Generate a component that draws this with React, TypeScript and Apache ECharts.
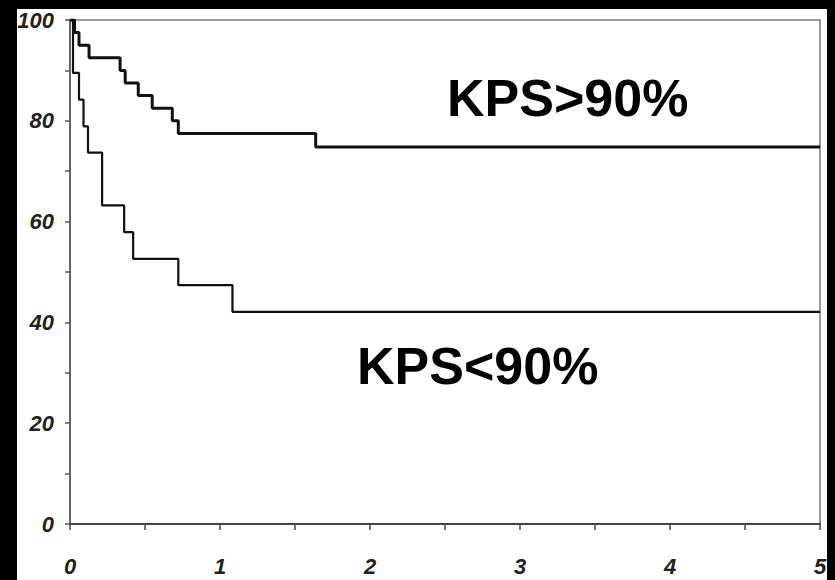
import React, { useEffect, useRef } from "react";
import * as echarts from "echarts";

const xTicks = [0, 1, 2, 3, 4, 5];
const yTicks = [0, 20, 40, 60, 80, 100];

// Kaplan-Meier survival, time in years, survival in %
const kpsHighTime = [0, 0.03, 0.06, 0.127, 0.334, 0.368, 0.455, 0.548, 0.682, 0.722, 1.638, 5];
const kpsHighSurv = [100, 97.5, 95, 92.5, 90, 87.5, 85, 82.5, 80, 77.5, 74.8, 74.8];

const kpsLowTime = [0, 0.02, 0.06, 0.09, 0.12, 0.214, 0.361, 0.421, 0.722, 1.083, 5];
const kpsLowSurv = [100, 89.5, 84.2, 78.9, 73.7, 63.2, 57.9, 52.6, 47.4, 42.1, 42.1];

const labelHigh = "KPS>90%";
const labelLow = "KPS<90%";

const tickFont = {
  fontFamily: "'Liberation Sans Narrow', 'Liberation Sans', Arial, sans-serif",
  fontWeight: "bold" as const,
  fontStyle: "italic" as const,
  fontSize: 22,
  color: "#222",
};

export default function App() {
  const ref = useRef<HTMLDivElement>(null);

  useEffect(() => {
    document.body.style.margin = "0";
    document.body.style.background = "#000";
    if (!ref.current) return;
    const chart = echarts.init(ref.current, undefined, { renderer: "svg" });
    chart.setOption({
      animation: false,
      backgroundColor: "transparent",
      grid: {
        left: 70,
        right: 15,
        top: 20,
        bottom: 56,
        show: true,
        borderColor: "#999",
        borderWidth: 2,
        backgroundColor: "transparent",
      },
      xAxis: {
        type: "value",
        min: 0,
        max: 5,
        interval: 0.5,
        splitLine: { show: false },
        axisLine: { show: true, onZero: false, lineStyle: { color: "#444", width: 2 } },
        axisTick: { show: true, length: 6, lineStyle: { color: "#444", width: 1.5 } },
        axisLabel: {
          ...tickFont,
          margin: 31,
          formatter: (v: number) => (xTicks.includes(v) ? String(v) : ""),
        },
      },
      yAxis: {
        type: "value",
        min: 0,
        max: 100,
        interval: 10,
        splitLine: { show: false },
        axisLine: { show: true, onZero: false, lineStyle: { color: "#555", width: 1.5 } },
        axisTick: { show: true, length: 5, lineStyle: { color: "#555", width: 1.5 } },
        axisLabel: {
          ...tickFont,
          margin: 16,
          formatter: (v: number) => (yTicks.includes(v) ? String(v) : ""),
        },
      },
      series: [
        {
          name: labelHigh,
          type: "line",
          step: "end",
          showSymbol: false,
          lineStyle: { color: "#111", width: 3 },
          data: kpsHighTime.map((t, i) => [t, kpsHighSurv[i]]),
          z: 3,
        },
        {
          name: labelLow,
          type: "line",
          step: "end",
          showSymbol: false,
          lineStyle: { color: "#111", width: 2.2 },
          data: kpsLowTime.map((t, i) => [t, kpsLowSurv[i]]),
          z: 3,
        },
      ],
      graphic: [
        {
          type: "text",
          left: 447,
          top: 72,
          style: {
            text: labelHigh,
            fill: "#000",
            fontFamily: "'Liberation Sans', Arial, sans-serif",
            fontWeight: "bold",
            fontSize: 52,
          },
        },
        {
          type: "text",
          left: 357,
          top: 340,
          style: {
            text: labelLow,
            fill: "#000",
            fontFamily: "'Liberation Sans', Arial, sans-serif",
            fontWeight: "bold",
            fontSize: 52,
          },
        },
      ],
    });
    return () => chart.dispose();
  }, []);

  return (
    <div style={{ position: "relative", width: 835, height: 580, background: "#000", overflow: "hidden" }}>
      <div style={{ position: "absolute", left: 17, top: 9, width: 810, height: 571, background: "#fff" }} />
      <div ref={ref} style={{ position: "absolute", left: 0, top: 0, width: 835, height: 580 }} />
    </div>
  );
}
